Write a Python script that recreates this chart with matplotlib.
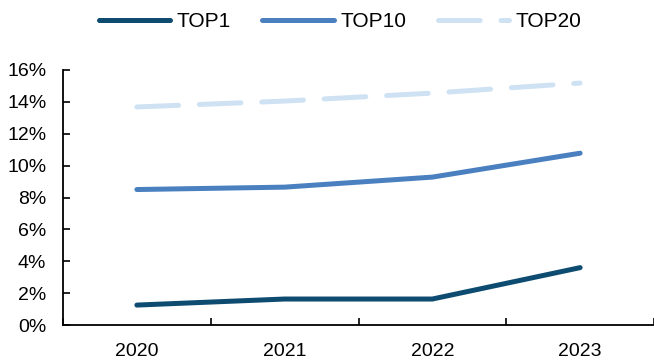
import matplotlib
matplotlib.use("Agg")
import matplotlib.pyplot as plt
from matplotlib.ticker import FuncFormatter, FixedLocator

plt.rcParams['font.family'] = ['Liberation Sans', 'DejaVu Sans']
plt.rcParams['lines.scale_dashes'] = False

years = ['2020', '2021', '2022', '2023']
top1 = [1.25, 1.63, 1.63, 3.6]
top10 = [8.5, 8.65, 9.28, 10.78]
top20 = [13.68, 14.05, 14.55, 15.18]
yticks = [0, 2, 4, 6, 8, 10, 12, 14, 16]

c1 = '#0d4b71'
c10 = '#4a80c0'
c20 = '#cfe2f3'

fig = plt.figure(figsize=(6.54, 3.62), dpi=100)
ax = fig.add_axes([63/654, 1-325/362, 1-63/654, 255/362])

x = list(range(len(years)))
ax.plot(x, top1, color=c1, lw=3.6, solid_capstyle='round', label='TOP1')
ax.plot(x, top10, color=c10, lw=3.6, solid_capstyle='round', label='TOP10')
ax.plot(x, top20, color=c20, lw=3.6, dashes=(30, 15), dash_capstyle='round', label='TOP20')

ax.set_xlim(-0.5, len(years) - 0.5)
ax.set_ylim(0, 16)
ax.set_yticks(yticks)
ax.yaxis.set_major_formatter(FuncFormatter(lambda v, p: f'{v:.0f}%'))
ax.set_xticks(x)
ax.set_xticklabels(years)
ax.xaxis.set_minor_locator(FixedLocator([i - 0.5 for i in range(len(years) + 1)]))
ax.tick_params(axis='x', which='major', length=0, pad=13, labelsize=14)
ax.tick_params(axis='x', which='minor', direction='in', length=5, width=1.2)
ax.tick_params(axis='y', which='major', direction='in', length=5, width=1.2, labelsize=14, pad=12)

for s in ['top', 'right']:
    ax.spines[s].set_visible(False)
for s in ['left', 'bottom']:
    ax.spines[s].set_linewidth(1.3)

fig.legend(loc='upper center', bbox_to_anchor=(0.52, 1.018), ncol=3, frameon=False,
           fontsize=15, handlelength=3.45, columnspacing=1.5, handletextpad=0.3)

fig.savefig('out.png', dpi=100)
